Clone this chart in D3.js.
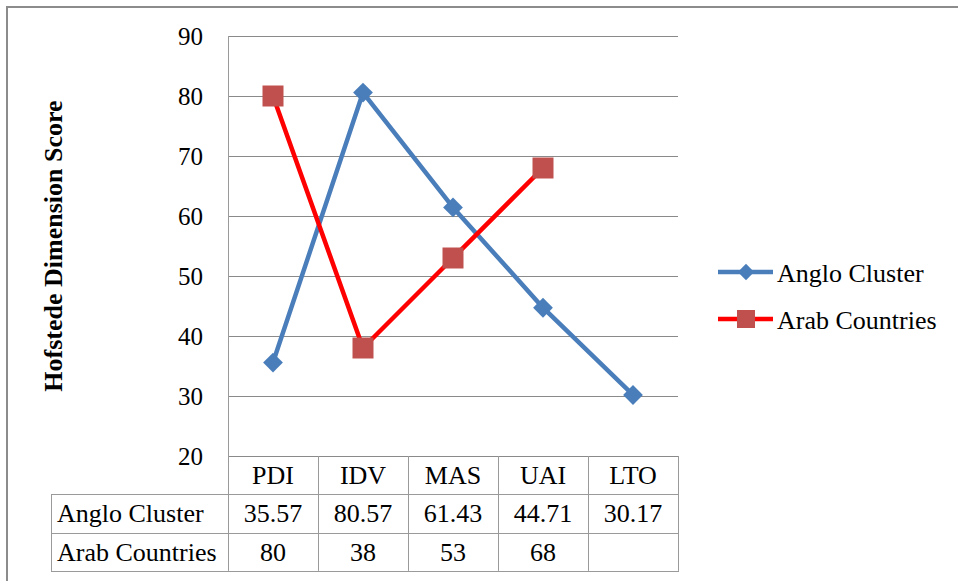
<!DOCTYPE html>
<html>
<head>
<meta charset="utf-8">
<script src="https://cdn.jsdelivr.net/npm/d3@7"></script>
<style>
  body { margin: 0; background: #fff; }
  svg text { font-family: "Liberation Serif", "Times New Roman", "DejaVu Serif", serif; fill: #000; }
</style>
</head>
<body>
<div id="chart"></div>
<script>

// data
const dimensions = ["PDI", "IDV", "MAS", "UAI", "LTO"]
const angloValues = [35.57, 80.57, 61.43, 44.71, 30.17]
const arabValues = [80, 38, 53, 68, null]
const seriesNames = ["Anglo Cluster", "Arab Countries"]
const yTicks = [20, 30, 40, 50, 60, 70, 80, 90]

const W = 958, H = 581
const plot = {left: 228, right: 678, top: 36, bottom: 456}
const rowH = 38.3
const labelLeft = 51
const serif = "Liberation Serif, Times New Roman, serif"

const svg = d3.select("#chart").append("svg")
    .attr("width", W)
    .attr("height", H)
    .attr("font-family", serif)

// outer border (only top and left visible)
svg.append("path")
    .attr("d", `M7,${H} L7,7 L${W},7`)
    .attr("fill", "none")
    .attr("stroke", "#8c8c8c")
    .attr("stroke-width", 2)

const xScale = d3.scaleBand()
    .domain(dimensions)
    .range([plot.left, plot.right])

const yScale = d3.scaleLinear()
    .domain([20, 90])
    .range([plot.bottom, plot.top])

// gridlines
svg.append("g")
    .selectAll("line")
    .data(yTicks)
    .enter()
    .append("line")
    .attr("x1", plot.left)
    .attr("x2", plot.right)
    .attr("y1", d => Math.round(yScale(d)) + 0.5)
    .attr("y2", d => Math.round(yScale(d)) + 0.5)
    .attr("stroke", "#8a8a8a")
    .attr("stroke-width", 1)

// y axis (labels only)
const yAxis = d3.axisLeft(yScale)
    .tickValues(yTicks)
    .tickSize(0)
    .tickPadding(25)

svg.append("g")
    .attr("transform", `translate(${plot.left},0)`)
    .call(yAxis)
    .attr("font-family", serif)
    .call(g => g.select(".domain").remove())
    .selectAll("text")
    .attr("font-family", serif)
    .attr("font-size", 25)
    .attr("dy", "0.35em")

svg.append("text")
    .attr("transform", `translate(62,246) rotate(-90)`)
    .attr("text-anchor", "middle")
    .attr("font-size", 26)
    .attr("font-weight", "bold")
    .text("Hofstede Dimension Score")

// data table
const tableBottom = plot.bottom + rowH * 3
const tbl = svg.append("g")
    .attr("stroke", "#9a9a9a")
    .attr("stroke-width", 1)

// left plot edge down through table
tbl.append("line")
    .attr("x1", plot.left + 0.5).attr("x2", plot.left + 0.5)
    .attr("y1", plot.top).attr("y2", tableBottom)

// column dividers
tbl.selectAll(".col")
    .data(dimensions)
    .enter()
    .append("line")
    .attr("x1", d => Math.round(xScale(d) + xScale.bandwidth()) + 0.5)
    .attr("x2", d => Math.round(xScale(d) + xScale.bandwidth()) + 0.5)
    .attr("y1", plot.bottom)
    .attr("y2", tableBottom)

// row lines
tbl.selectAll(".row")
    .data([1, 2, 3])
    .enter()
    .append("line")
    .attr("x1", labelLeft)
    .attr("x2", plot.right + 1)
    .attr("y1", d => Math.round(plot.bottom + rowH * d) + 0.5)
    .attr("y2", d => Math.round(plot.bottom + rowH * d) + 0.5)

tbl.append("line")
    .attr("x1", labelLeft + 0.5).attr("x2", labelLeft + 0.5)
    .attr("y1", plot.bottom + rowH).attr("y2", tableBottom)

// header row
svg.append("g")
    .selectAll("text")
    .data(dimensions)
    .enter()
    .append("text")
    .attr("x", d => xScale(d) + xScale.bandwidth() / 2)
    .attr("y", plot.bottom + 28)
    .attr("text-anchor", "middle")
    .attr("font-size", 26)
    .text(d => d)

const tableRows = [angloValues, arabValues]
tableRows.forEach((vals, i) => {
    const yBase = plot.bottom + rowH * (i + 1) + 28
    svg.append("text")
        .attr("x", labelLeft + 6)
        .attr("y", yBase)
        .attr("font-size", 26)
        .text(seriesNames[i])
    svg.append("g")
        .selectAll("text")
        .data(vals)
        .enter()
        .append("text")
        .attr("x", (d, j) => xScale(dimensions[j]) + xScale.bandwidth() / 2)
        .attr("y", yBase)
        .attr("text-anchor", "middle")
        .attr("font-size", 26)
        .text(d => d == null ? "" : d)
})

// lines and markers
const blue = "#4a7ebb", red = "#ff0000", squareFill = "#c0504d"

const line = d3.line()
    .defined(d => d.v != null)
    .x(d => xScale(d.k) + xScale.bandwidth() / 2)
    .y(d => yScale(d.v))

const anglo = dimensions.map((k, i) => ({k: k, v: angloValues[i]}))
const arab = dimensions.map((k, i) => ({k: k, v: arabValues[i]}))

svg.append("path")
    .datum(anglo)
    .attr("d", line)
    .attr("fill", "none")
    .attr("stroke", blue)
    .attr("stroke-width", 4.5)
    .attr("stroke-linejoin", "round")

svg.selectAll(".diamond")
    .data(anglo)
    .enter()
    .append("path")
    .attr("d", d3.symbol(d3.symbolDiamond2, 250)())
    .attr("transform", d => `translate(${xScale(d.k) + xScale.bandwidth() / 2},${yScale(d.v)})`)
    .attr("fill", blue)

svg.append("path")
    .datum(arab)
    .attr("d", line)
    .attr("fill", "none")
    .attr("stroke", red)
    .attr("stroke-width", 4.5)
    .attr("stroke-linejoin", "round")

svg.selectAll(".square")
    .data(arab.filter(d => d.v != null))
    .enter()
    .append("rect")
    .attr("x", d => xScale(d.k) + xScale.bandwidth() / 2 - 10.5)
    .attr("y", d => yScale(d.v) - 10.5)
    .attr("width", 21)
    .attr("height", 21)
    .attr("fill", squareFill)

// legend
const legend = svg.append("g")
const legendY = [272, 319]

legend.selectAll("line")
    .data(seriesNames)
    .enter()
    .append("line")
    .attr("x1", 718).attr("x2", 773)
    .attr("y1", (d, i) => legendY[i]).attr("y2", (d, i) => legendY[i])
    .attr("stroke", (d, i) => i == 0 ? blue : red)
    .attr("stroke-width", 4.5)

legend.append("path")
    .attr("d", d3.symbol(d3.symbolDiamond2, 170)())
    .attr("transform", `translate(746,${legendY[0]})`)
    .attr("fill", blue)

legend.append("rect")
    .attr("x", 737).attr("y", legendY[1] - 9)
    .attr("width", 18).attr("height", 18)
    .attr("fill", squareFill)

legend.selectAll("text")
    .data(seriesNames)
    .enter()
    .append("text")
    .attr("x", 777)
    .attr("y", (d, i) => legendY[i] + 10)
    .attr("font-size", 26)
    .text(d => d)

</script>
</body>
</html>
